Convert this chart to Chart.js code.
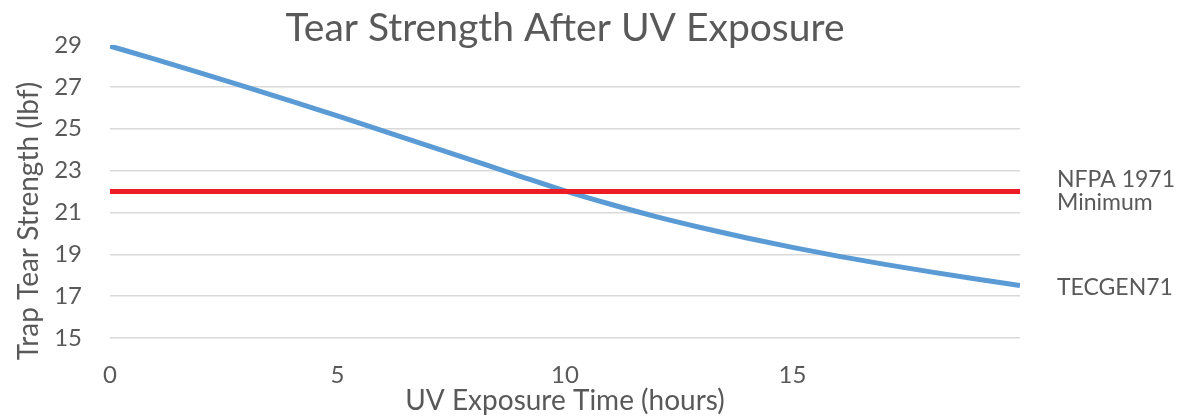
<!DOCTYPE html>
<html>
<head>
<meta charset="utf-8">
<script src="https://cdn.jsdelivr.net/npm/chart.js@4/dist/chart.umd.min.js"></script>
<style>
  html, body { margin: 0; padding: 0; background: #fff; }
  #wrap { width: 1179px; height: 416px; }
</style>
</head>
<body>
<div id="wrap"><canvas id="chart" width="1179" height="416"></canvas></div>
<script>
// UV exposure time (hours) and trap tear strength (lbf)
const hours = [0, 1, 2, 3, 4, 5, 6, 7, 8, 9, 10, 11, 12, 13, 14, 15, 16, 17, 18, 19, 20];
const tecgen71 = [28.95, 28.31, 27.66, 26.99, 26.31, 25.61, 24.90, 24.18, 23.46, 22.74, 22.03,
                  21.39, 20.80, 20.27, 19.78, 19.33, 18.91, 18.53, 18.17, 17.83, 17.51];
const nfpaMinimum = 22;
const yTicks = [15, 17, 19, 21, 23, 25, 27, 29];
const xTicks = [0, 5, 10, 15];

const TEXT = '#595959';
const FONT = 'Lato, "Open Sans", sans-serif';

// line labels on the right side, and the y title (sits a bit low, as in the original)
const sideLabels = {
    id: 'sideLabels',
    afterDatasetsDraw(chart) {
        const { ctx, chartArea, scales } = chart;
        const x = chartArea.right + 37;
        ctx.save();
        ctx.fillStyle = TEXT;
        ctx.font = '23px ' + FONT;
        ctx.textBaseline = 'middle';
        ctx.textAlign = 'left';
        const yMin = scales.y.getPixelForValue(nfpaMinimum);
        ctx.fillText('NFPA 1971', x, yMin - 12);
        ctx.fillText('Minimum', x, yMin + 11);
        const yEnd = scales.y.getPixelForValue(tecgen71[tecgen71.length - 1]);
        ctx.fillText('TECGEN71', x, yEnd + 2);

        ctx.translate(29, 221);
        ctx.rotate(-Math.PI / 2);
        ctx.textAlign = 'center';
        ctx.font = '28px ' + FONT;
        ctx.fillText('Trap Tear Strength (lbf)', 0, 0);
        ctx.restore();
    }
};

new Chart(document.getElementById('chart'), {
    type: 'line',
    data: {
        datasets: [
            {
                label: 'NFPA 1971 Minimum',
                data: [{ x: hours[0], y: nfpaMinimum }, { x: hours[hours.length - 1], y: nfpaMinimum }],
                borderColor: '#ED1C24',
                borderWidth: 5,
                pointRadius: 0
            },
            {
                label: 'TECGEN71',
                data: hours.map((h, i) => ({ x: h, y: tecgen71[i] })),
                borderColor: '#5B9BD5',
                borderWidth: 5,
                pointRadius: 0,
                cubicInterpolationMode: 'monotone'
            }
        ]
    },
    options: {
        responsive: false,
        animation: false,
        layout: { padding: { left: 0, right: 159, top: 0, bottom: 0 } },
        plugins: {
            legend: { display: false },
            tooltip: { enabled: false },
            title: {
                display: true,
                fullSize: false,
                text: 'Tear Strength After UV Exposure',
                color: TEXT,
                font: { family: FONT, size: 39, weight: 'normal', lineHeight: 1.0 },
                padding: { top: 9, bottom: -3 }
            }
        },
        scales: {
            x: {
                type: 'linear',
                min: 0,
                max: 20,
                afterBuildTicks: axis => { axis.ticks = xTicks.map(v => ({ value: v })); },
                afterFit: axis => { axis.height = 78; },
                grid: { display: false },
                border: { display: false },
                ticks: { color: TEXT, font: { family: FONT, size: 24 }, padding: 15, maxRotation: 0 },
                title: {
                    display: true,
                    text: 'UV Exposure Time (hours)',
                    color: TEXT,
                    font: { family: FONT, size: 28 },
                    padding: { top: 0, bottom: -2 }
                }
            },
            y: {
                min: 15,
                max: 29,
                afterBuildTicks: axis => { axis.ticks = yTicks.map(v => ({ value: v })); },
                afterFit: axis => { axis.width = 110; },
                border: { display: false },
                grid: {
                    drawTicks: false,
                    lineWidth: 1.5,
                    color: c => (c.tick && c.tick.value === 29) ? 'rgba(0,0,0,0)' : '#D9D9D9'
                },
                ticks: { color: TEXT, font: { family: FONT, size: 24 }, padding: 28 }
            }
        }
    },
    plugins: [sideLabels]
});
</script>
</body>
</html>
